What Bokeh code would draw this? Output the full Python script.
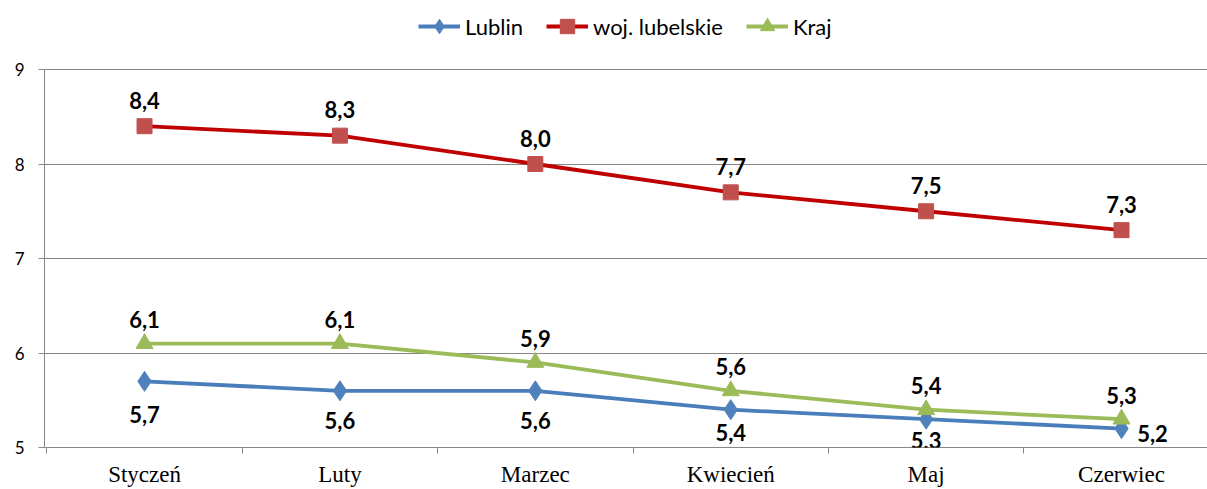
from bokeh.plotting import figure
from bokeh.models import Range1d, FixedTicker, Legend, LegendItem, ColumnDataSource, LabelSet
from bokeh.embed import file_html
from bokeh.resources import INLINE
from bokeh.core.properties import value

# ---- data ----
months = ["Styczeń", "Luty", "Marzec", "Kwiecień", "Maj", "Czerwiec"]
lublin = [5.7, 5.6, 5.6, 5.4, 5.3, 5.2]
woj_lubelskie = [8.4, 8.3, 8.0, 7.7, 7.5, 7.3]
kraj = [6.1, 6.1, 5.9, 5.6, 5.4, 5.3]
series_names = ["Lublin", "woj. lubelskie", "Kraj"]
y_ticks = [5, 6, 7, 8, 9]

# ---- label layout (screen offsets, not data) ----
lublin_dx = [0, 0, 0, 0, 0, 31]
lublin_dy = [-33, -30, -30, -23, -21, -5]

x = list(range(1, len(months) + 1))
fmt = lambda v: f"{v:.1f}".replace(".", ",")

LABEL_FONT = "Lato"
GRID = "#868686"

# frame spans from the top of the canvas; value axis drawn only over 5..9
p = figure(width=1207, height=489, output_backend="svg", toolbar_location=None,
           x_range=Range1d(0.488, 6.44), y_range=Range1d(5, 5 + 447 / 94.5),
           min_border_left=44, min_border_right=0, min_border_top=0, min_border_bottom=42)
p.outline_line_color = None
p.background_fill_color = "white"
p.border_fill_color = "white"

# axes
p.xgrid.grid_line_color = None
p.ygrid.grid_line_color = GRID
p.ygrid.grid_line_width = 1
p.yaxis.ticker = FixedTicker(ticks=y_ticks)
p.yaxis.bounds = (min(y_ticks), max(y_ticks))
p.yaxis.axis_line_color = GRID
p.yaxis.major_tick_line_color = GRID
p.yaxis.major_tick_out = 6
p.yaxis.major_tick_in = 0
p.yaxis.minor_tick_line_color = None
p.yaxis.major_label_standoff = 14
p.yaxis.major_label_text_font = LABEL_FONT
p.yaxis.major_label_text_font_size = "17px"
p.yaxis.major_label_text_color = "black"

p.xaxis.ticker = FixedTicker(ticks=x, minor_ticks=[i + 0.5 for i in range(0, len(months) + 1)])
p.xaxis.major_label_overrides = {i: m for i, m in zip(x, months)}
p.xaxis.axis_line_color = GRID
p.xaxis.major_tick_line_color = None
p.xaxis.major_tick_out = 0
p.xaxis.major_tick_in = 0
p.xaxis.minor_tick_line_color = GRID
p.xaxis.minor_tick_out = 6
p.xaxis.minor_tick_in = 0
p.xaxis.major_label_standoff = 8
p.xaxis.major_label_text_font = "Liberation Serif"
p.xaxis.major_label_text_font_size = "23px"
p.xaxis.major_label_text_color = "black"

# series
specs = [
    (series_names[0], lublin, "#4A7EBB", "#4F81BD", "diamond", 20),
    (series_names[1], woj_lubelskie, "#C00000", "#C0504D", "square", 15),
    (series_names[2], kraj, "#9BBB59", "#9BBB59", "triangle", 17),
]
items = []
for name, vals, lc, mc, marker, size in specs:
    src = ColumnDataSource(dict(x=x, y=vals))
    ln = p.line("x", "y", source=src, line_color=lc, line_width=3.8)
    sc = p.scatter("x", "y", source=src, marker=marker, size=size,
                   fill_color=mc, line_color=mc)
    items.append(LegendItem(label=name, renderers=[ln, sc]))

# data labels
def add_labels(vals, dx, dy):
    src = ColumnDataSource(dict(x=x, y=vals, t=[fmt(v) for v in vals], dx=dx, dy=dy))
    ls = LabelSet(x="x", y="y", text="t", source=src, x_offset="dx", y_offset="dy",
                  text_align="center", text_baseline="middle",
                  text_font=value(LABEL_FONT), text_font_style="bold",
                  text_font_size="22px", text_color="black")
    p.add_layout(ls)

n = len(months)
add_labels(woj_lubelskie, [0] * n, [26] * n)
add_labels(kraj, [0] * n, [24] * n)
add_labels(lublin, lublin_dx, lublin_dy)

legend = Legend(items=items, orientation="horizontal", location=(374, 403),
                border_line_color=None, background_fill_alpha=0,
                glyph_width=42, glyph_height=36, label_standoff=5, spacing=23,
                padding=0, margin=0, label_text_font=LABEL_FONT,
                label_text_font_size="22px", label_text_color="black")
p.add_layout(legend)

open("out.html", "w").write(file_html(p, INLINE))
